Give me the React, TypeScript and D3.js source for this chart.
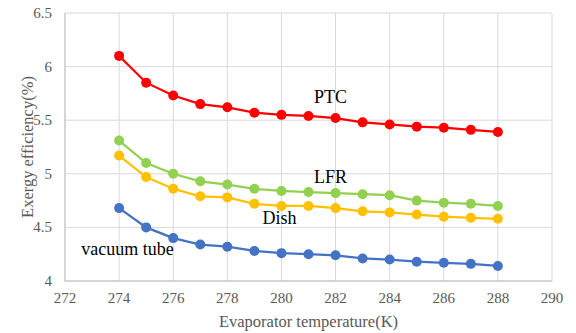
import React from "react";
import * as d3 from "d3";

const temps = [274, 275, 276, 277, 278, 279, 280, 281, 282, 283, 284, 285, 286, 287, 288];
const ptc = [6.1, 5.85, 5.73, 5.65, 5.62, 5.57, 5.55, 5.54, 5.52, 5.48, 5.46, 5.44, 5.43, 5.41, 5.39];
const lfr = [5.31, 5.1, 5.0, 4.93, 4.9, 4.86, 4.84, 4.83, 4.82, 4.81, 4.8, 4.75, 4.73, 4.72, 4.7];
const dish = [5.17, 4.97, 4.86, 4.79, 4.78, 4.72, 4.7, 4.7, 4.68, 4.65, 4.64, 4.62, 4.6, 4.59, 4.58];
const vacuum = [4.68, 4.5, 4.4, 4.34, 4.32, 4.28, 4.26, 4.25, 4.24, 4.21, 4.2, 4.18, 4.17, 4.16, 4.14];
const xTicks = [272, 274, 276, 278, 280, 282, 284, 286, 288, 290];
const yTicks = [4, 4.5, 5, 5.5, 6, 6.5];

const series = [
  { name: "PTC", values: ptc, color: "#ff0000", lx: 281.2, ly: 103 },
  { name: "LFR", values: lfr, color: "#92d050", lx: 281.2, ly: 183 },
  { name: "Dish", values: dish, color: "#ffc000", lx: 279.3, ly: 224 },
  { name: "vacuum tube", values: vacuum, color: "#4472c4", lx: 272.6, ly: 255 },
];

const font = '"Liberation Serif", "Times New Roman", "DejaVu Serif", serif';

export default function App() {
  const W = 576, H = 333;
  const left = 65, right = 552, top = 13, bottom = 281;
  const x = d3.scaleLinear().domain([272, 290]).range([left, right]);
  const y = d3.scaleLinear().domain([4, 6.5]).range([bottom, top]);
  const line = d3.line<number>().x((_, i) => x(temps[i])).y((d) => y(d));
  const ts = { fontFamily: font };
  return (
    <svg width={W} height={H} style={{ position: "absolute", left: 0, top: 0, background: "#fff" }}>
      {yTicks.map((t) => (
        <line key={"gy" + t} x1={left} x2={right} y1={y(t)} y2={y(t)} stroke="#d9d9d9" strokeWidth={1} />
      ))}
      {xTicks.map((t) => (
        <line key={"gx" + t} x1={x(t)} x2={x(t)} y1={top} y2={bottom} stroke="#d9d9d9" strokeWidth={1} />
      ))}
      <line x1={left} x2={left} y1={top} y2={bottom} stroke="#bfbfbf" strokeWidth={1} />
      <line x1={left} x2={right} y1={bottom} y2={bottom} stroke="#bfbfbf" strokeWidth={1} />
      {yTicks.map((t) => (
        <text key={"ty" + t} x={52} y={y(t) + 5} textAnchor="end" style={ts} fontSize={15} fill="#595959">
          {d3.format("")(t)}
        </text>
      ))}
      {xTicks.map((t) => (
        <text key={"tx" + t} x={x(t)} y={303} textAnchor="middle" style={ts} fontSize={15} fill="#595959">
          {t}
        </text>
      ))}
      <text x={(left + right) / 2} y={327} textAnchor="middle" style={ts} fontSize={16.5} fill="#595959">
        Evaporator temperature(K)
      </text>
      <text
        transform={`translate(33,${(top + bottom) / 2}) rotate(-90)`}
        textAnchor="middle"
        style={ts}
        fontSize={16.5}
        fill="#595959"
      >
        Exergy efficiency(%)
      </text>
      {series.map((s) => (
        <g key={s.name}>
          <path d={line(s.values) || ""} fill="none" stroke={s.color} strokeWidth={2.25} />
          {s.values.map((v, i) => (
            <circle key={i} cx={x(temps[i])} cy={y(v)} r={5} fill={s.color} />
          ))}
          <text x={x(s.lx)} y={s.ly} style={ts} fontSize={18} fill="#000">
            {s.name}
          </text>
        </g>
      ))}
    </svg>
  );
}
